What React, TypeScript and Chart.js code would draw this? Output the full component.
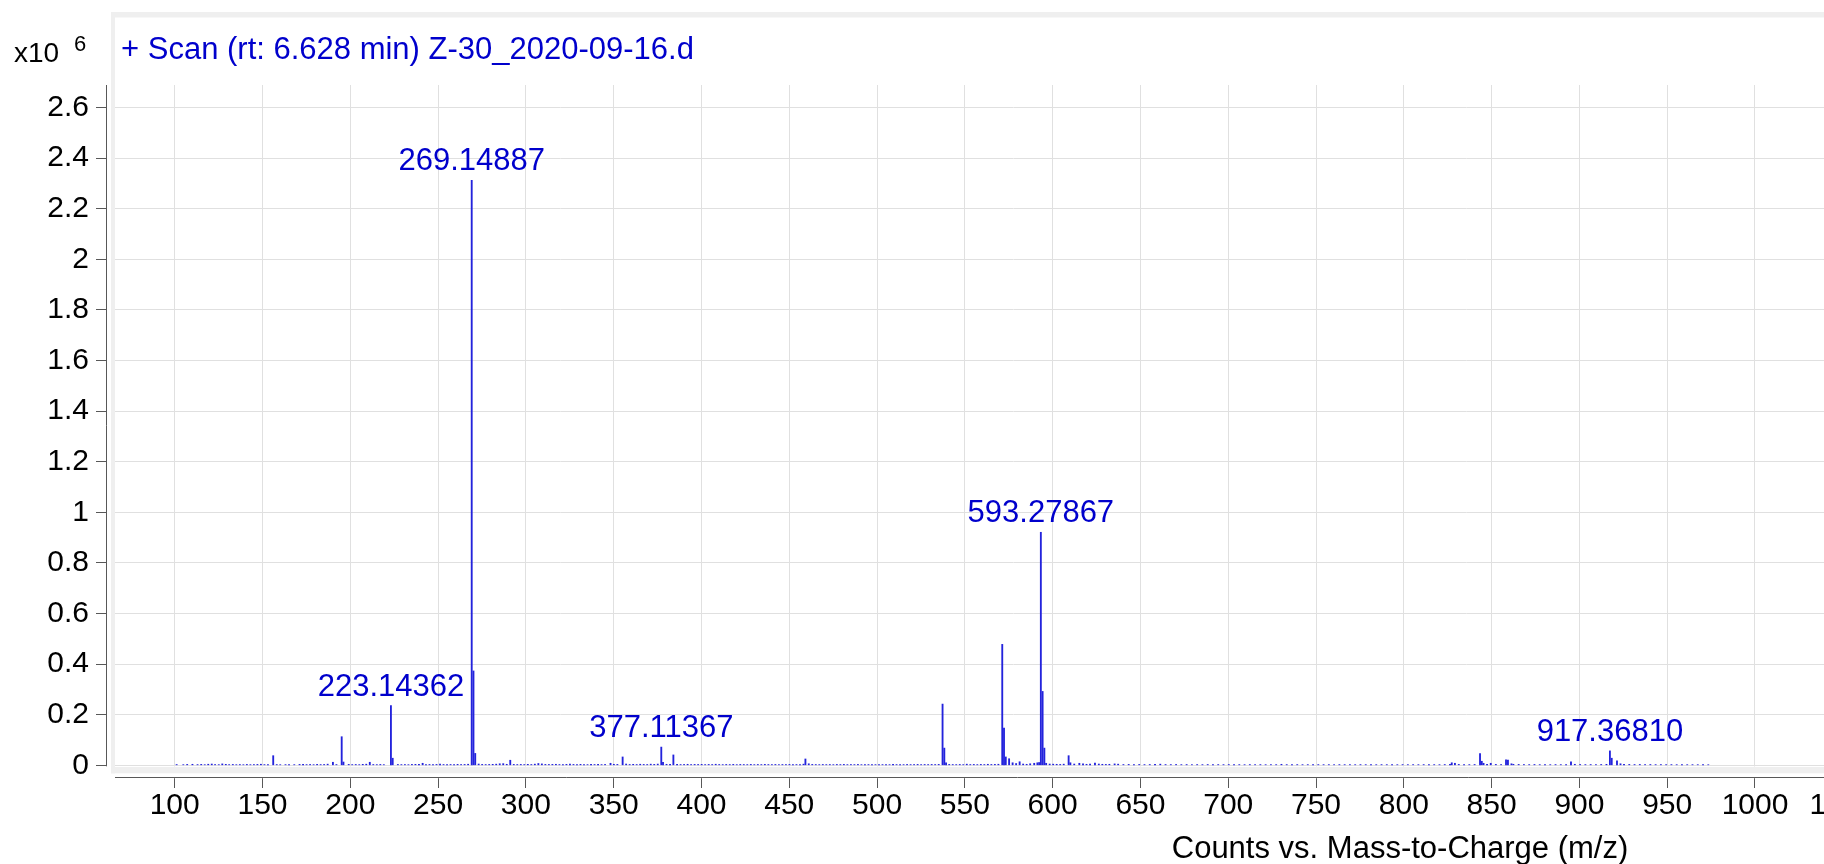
import React, { useEffect, useRef } from "react";
import { Chart, registerables } from "chart.js";

Chart.register(...registerables);

// ---------- text ----------
const titleText = "+ Scan (rt: 6.628 min) Z-30_2020-09-16.d";
const xAxisTitle = "Counts vs. Mass-to-Charge (m/z)";
const yMultiplierBase = "x10";
const yMultiplierExp = "6";

// ---------- ticks ----------
const xTickValues = [100, 150, 200, 250, 300, 350, 400, 450, 500, 550, 600, 650, 700, 750, 800, 850, 900, 950, 1000, 1050];
const yTickValues = [0, 200000, 400000, 600000, 800000, 1000000, 1200000, 1400000, 1600000, 1800000, 2000000, 2200000, 2400000, 2600000];

// ---------- labelled peaks ----------
const labeledMz = [223.14362, 269.14887, 377.11367, 593.27867, 917.3681];
const labeledCounts = [235600, 2312000, 72000, 921000, 57000];

// ---------- other peaks ----------
const peakMz = [156.1, 190.1, 195.1, 196.1, 211.1, 224.15, 241.2, 270.15, 271.15, 291.1, 307.1, 348.2, 355.1, 378.1, 384.0, 459.2, 537.3, 538.3, 539.3, 571.3, 572.3, 573.3, 575.2, 577.2, 581.2, 589.5, 591.3, 592.3, 594.28, 595.28, 596.3, 609.1, 610.1, 615.2, 624.1, 827.3, 829.1, 843.4, 844.4, 845.4, 849.5, 858.2, 859.3, 861.3, 895.2, 918.4, 921.4, 923.4];
const peakCounts = [38000, 12000, 113000, 13000, 12000, 28000, 8000, 373000, 47000, 20000, 7000, 8000, 33000, 12000, 41000, 25000, 242000, 68000, 10000, 478000, 147000, 33000, 26000, 10000, 14000, 8000, 10000, 11000, 292000, 68000, 8000, 38000, 10000, 8000, 9000, 10000, 8000, 46000, 16000, 8000, 8000, 22000, 21000, 6000, 14000, 28000, 18000, 6000];

// ---------- baseline noise ----------
const noiseMz = [101.1, 104.9, 107.1, 110.1, 113.0, 115.1, 117.1, 119.1, 121.1, 123.0, 125.1, 127.1, 129.1, 131.0, 133.1, 135.1, 137.1, 139.1, 141.1, 143.1, 145.1, 147.1, 149.1, 151.1, 153.1, 158.1, 160.1, 163.1, 165.1, 168.1, 171.1, 173.1, 175.1, 177.1, 179.1, 181.1, 183.1, 185.1, 187.1, 192.1, 199.1, 201.1, 203.1, 205.1, 207.1, 209.1, 213.1, 215.1, 217.1, 219.1, 227.1, 229.1, 231.1, 233.1, 235.1, 237.1, 239.1, 243.1, 245.1, 247.1, 249.1, 251.1, 253.1, 255.1, 257.1, 259.1, 261.1, 263.1, 265.1, 267.1, 273.1, 275.1, 277.1, 279.1, 281.1, 283.1, 285.1, 287.1, 289.1, 293.1, 295.1, 297.1, 299.1, 301.1, 303.1, 305.1, 309.1, 311.1, 313.1, 315.1, 317.1, 319.1, 321.1, 323.1, 325.1, 327.1, 329.1, 331.1, 333.1, 335.1, 337.1, 339.1, 341.1, 343.1, 345.1, 350.1, 352.1, 357.1, 359.1, 361.1, 363.1, 365.1, 367.1, 369.1, 371.1, 373.1, 375.1, 380.1, 382.1, 386.1, 388.1, 390.1, 392.1, 394.1, 396.1, 398.1, 400.1, 402.1, 404.1, 406.1, 408.1, 410.1, 412.1, 414.1, 416.1, 418.1, 420.1, 422.1, 424.1, 426.1, 428.1, 430.1, 432.1, 434.1, 436.1, 438.1, 440.1, 442.1, 444.1, 446.1, 448.1, 450.1, 452.1, 454.1, 456.1, 458.1, 461.1, 463.1, 465.1, 467.1, 469.1, 471.1, 473.1, 475.1, 477.1, 479.1, 481.1, 483.1, 485.1, 487.1, 489.1, 491.1, 493.1, 495.1, 497.1, 499.1, 501.1, 503.1, 505.1, 507.1, 509.1, 511.1, 513.1, 515.1, 517.1, 519.1, 521.1, 523.1, 525.1, 527.1, 529.1, 531.1, 533.1, 535.1, 541.1, 543.1, 545.1, 547.1, 549.1, 551.1, 553.1, 555.1, 557.1, 559.1, 561.1, 563.1, 565.1, 567.1, 569.1, 579.2, 583.2, 585.2, 587.2, 598.3, 600.3, 602.3, 604.3, 606.3, 612.3, 617.3, 619.3, 621.3, 626.3, 628.3, 630.3, 632.3, 635.3, 637.3, 640.3, 643.3, 646.3, 649.3, 652.3, 655.3, 658.3, 661.3, 664.3, 667.3, 670.3, 673.3, 676.3, 679.3, 682.3, 685.3, 688.3, 691.3, 694.3, 697.3, 700.3, 703.3, 706.3, 709.3, 712.3, 715.3, 718.3, 721.3, 724.3, 727.3, 730.3, 733.3, 736.3, 739.3, 742.3, 745.3, 748.3, 751.3, 754.3, 757.3, 760.3, 763.3, 766.3, 769.3, 772.3, 775.3, 778.3, 781.3, 784.3, 787.3, 790.3, 793.3, 796.3, 799.3, 802.3, 805.3, 808.3, 811.3, 814.3, 817.3, 820.3, 823.3, 826.3, 831.3, 834.3, 837.3, 840.3, 847.4, 852.4, 855.4, 862.4, 865.4, 868.4, 871.4, 874.4, 877.4, 880.4, 883.4, 886.4, 889.4, 892.4, 897.4, 900.4, 903.4, 906.4, 909.4, 912.4, 915.4, 925.4, 928.4, 931.4, 934.4, 937.4, 940.4, 943.4, 946.4, 949.4, 952.4, 955.4, 958.4, 961.4, 964.4, 967.4, 970.4, 973.4];
const noiseCounts = [3000, 2500, 3500, 4000, 2800, 3600, 2500, 4200, 5000, 3000, 2600, 5500, 3800, 2700, 3300, 2500, 3000, 2400, 3400, 2600, 2900, 3500, 4200, 2800, 3100, 3000, 2500, 2700, 3200, 2600, 3500, 4000, 2800, 3300, 2500, 3700, 2900, 3200, 4500, 3000, 3600, 2800, 3200, 2600, 3900, 4400, 3100, 2700, 3400, 2600, 3300, 2800, 3000, 2500, 3500, 3800, 4100, 2900, 3300, 2700, 3400, 5000, 3100, 2800, 3200, 2600, 3700, 3000, 3400, 4200, 5000, 3500, 3000, 3300, 3800, 4500, 6000, 6500, 4000, 3500, 3000, 3400, 2900, 3800, 3100, 4600, 5500, 3500, 3200, 3600, 4000, 3000, 2800, 3700, 5000, 3400, 2900, 3800, 3200, 2700, 3500, 3100, 3900, 2800, 3300, 4000, 3500, 5000, 3200, 3800, 3000, 4200, 3400, 3100, 4500, 3600, 4800, 4000, 3500, 3800, 3000, 3300, 4000, 2900, 3500, 3200, 3700, 2800, 3400, 3000, 4200, 3100, 2700, 3300, 2900, 3600, 2600, 3400, 3000, 2800, 3500, 2700, 3200, 2900, 3600, 3000, 2800, 3300, 2600, 3100, 2900, 3400, 2700, 3000, 3300, 4500, 6000, 3500, 3000, 2700, 3200, 2800, 3100, 2600, 3300, 2900, 3500, 2700, 3000, 2800, 3400, 2600, 3100, 2900, 3300, 2700, 3200, 2800, 3000, 2600, 3400, 2900, 3100, 2700, 3300, 2800, 3000, 3500, 2700, 3200, 2900, 3400, 3000, 3600, 3500, 3000, 2800, 3300, 2700, 4500, 3000, 3400, 2800, 3500, 3000, 4000, 3300, 3600, 4200, 7000, 5000, 4000, 6000, 5000, 4500, 4000, 3500, 4500, 5000, 6000, 4000, 4500, 5000, 4000, 3500, 4000, 5500, 4500, 3000, 3500, 3000, 3300, 2800, 3100, 3500, 4500, 3000, 2800, 3200, 2700, 3000, 2600, 2900, 2700, 3100, 2600, 2900, 2700, 3000, 2600, 2800, 2500, 2900, 2600, 2800, 2500, 2700, 2600, 4000, 2700, 2500, 2800, 2600, 2700, 2500, 2800, 2600, 2700, 2500, 2800, 2600, 2700, 2500, 2800, 2600, 2700, 2500, 2800, 2600, 2700, 2500, 2800, 2600, 2700, 2600, 2800, 2500, 2700, 2600, 3000, 4000, 3500, 3000, 2800, 3200, 4000, 3500, 3000, 4000, 3500, 3000, 2800, 3200, 2700, 3000, 2600, 2900, 2700, 3100, 4000, 3200, 2800, 3000, 2700, 3200, 3800, 4000, 3500, 3000, 3300, 2800, 3100, 2700, 2900, 2600, 2800, 2500, 2700, 2500, 2600, 2500, 2400, 2300];

// ---------- ranges ----------
const X_MIN = 61.44;
const X_MAX = 1093.97;
const Y_MIN = -46245;
const Y_MAX = 2688950;

const FONT = "'Liberation Sans', Arial, sans-serif";
const BLUE_TEXT = "#0000cc";
const BAR_COLOR = "rgb(35,35,220)";
const GRID_COLOR = "#e0e0e0";
const AXIS_COLOR = "#585858";
const FRAME_COLOR = "#efefef";

function buildData() {
  const pts: { x: number; y: number }[] = [];
  labeledMz.forEach((m, i) => pts.push({ x: m, y: labeledCounts[i] }));
  peakMz.forEach((m, i) => pts.push({ x: m, y: peakCounts[i] }));
  noiseMz.forEach((m, i) => pts.push({ x: m, y: noiseCounts[i] }));
  pts.sort((a, b) => a.x - b.x);
  return pts;
}

const framePlugin = {
  id: "msFrame",
  beforeDatasetsDraw(chart: any) {
    const { ctx, chartArea: a, width } = chart;
    const ys = chart.scales.y;
    const zeroY = ys.getPixelForValue(0);
    ctx.save();
    // white gap between axes and plot panel
    ctx.fillStyle = "#ffffff";
    ctx.fillRect(a.left, a.top, 8, a.bottom - a.top);
    ctx.fillRect(a.left, zeroY + 1.2, width - a.left, a.bottom - zeroY);
    // light grey panel frame
    ctx.fillStyle = FRAME_COLOR;
    ctx.fillRect(a.left + 4, 12, 4, zeroY + 8 - 12);
    ctx.fillRect(a.left + 4, 12, width - a.left - 4, 5.5);
    ctx.fillRect(a.left + 4, zeroY + 1.7, width - a.left - 4, 6.3);
    // axis lines
    ctx.strokeStyle = AXIS_COLOR;
    ctx.lineWidth = 1;
    ctx.beginPath();
    ctx.moveTo(a.left - 0.5, a.top);
    ctx.lineTo(a.left - 0.5, zeroY + 1);
    ctx.moveTo(a.left + 8, a.bottom + 0.5);
    ctx.lineTo(width, a.bottom + 0.5);
    ctx.stroke();
    ctx.restore();
  },
  afterDraw(chart: any) {
    const { ctx } = chart;
    const xs = chart.scales.x;
    const ys = chart.scales.y;
    ctx.save();
    ctx.textBaseline = "alphabetic";
    // title
    ctx.fillStyle = BLUE_TEXT;
    ctx.font = `31px ${FONT}`;
    ctx.textAlign = "left";
    ctx.fillText(titleText, 121, 59);
    // multiplier
    ctx.fillStyle = "#000";
    ctx.font = `28px ${FONT}`;
    ctx.fillText(yMultiplierBase, 14, 62);
    ctx.font = `22px ${FONT}`;
    ctx.fillText(yMultiplierExp, 74, 51);
    // x axis title
    ctx.font = `31px ${FONT}`;
    ctx.textAlign = "center";
    ctx.fillText(xAxisTitle, 1400, 858);
    // peak labels
    ctx.fillStyle = BLUE_TEXT;
    labeledMz.forEach((m, i) => {
      const px = xs.getPixelForValue(m);
      const py = ys.getPixelForValue(labeledCounts[i]);
      ctx.fillText(m.toFixed(5), px, py - 10);
    });
    ctx.restore();
  },
};

export default function App() {
  const ref = useRef<HTMLCanvasElement | null>(null);
  useEffect(() => {
    const canvas = ref.current;
    if (!canvas) return;
    const chart = new Chart(canvas, {
      type: "bar",
      data: {
        datasets: [
          {
            data: buildData() as any,
            backgroundColor: BAR_COLOR,
            borderWidth: 0,
            barThickness: 1.2,
            grouped: false,
          } as any,
        ],
      },
      options: {
        animation: false,
        responsive: false,
        devicePixelRatio: 1,
        layout: { padding: { top: 85, left: 0, right: 0, bottom: 0 } },
        plugins: { legend: { display: false }, tooltip: { enabled: false } },
        scales: {
          x: {
            type: "linear",
            min: X_MIN,
            max: X_MAX,
            offset: false,
            afterBuildTicks: (s: any) => {
              s.ticks = xTickValues.map((v) => ({ value: v }));
            },
            afterFit: (s: any) => {
              s.height = 87;
            },
            grid: { offset: false, color: GRID_COLOR, lineWidth: 1, tickLength: 11, tickColor: AXIS_COLOR, drawTicks: true },
            border: { display: false },
            ticks: {
              autoSkip: false,
              maxRotation: 0,
              minRotation: 0,
              padding: 0,
              color: "#000",
              font: { family: FONT, size: 30 },
              callback: (v: any) => String(v),
            },
          },
          y: {
            type: "linear",
            min: Y_MIN,
            max: Y_MAX,
            afterBuildTicks: (s: any) => {
              s.ticks = yTickValues.map((v) => ({ value: v }));
            },
            afterFit: (s: any) => {
              s.width = 107;
            },
            grid: { offset: false, color: GRID_COLOR, lineWidth: 1, tickLength: 11, tickColor: AXIS_COLOR, drawTicks: true },
            border: { display: false },
            ticks: {
              padding: 7,
              color: "#000",
              font: { family: FONT, size: 30 },
              callback: (v: any) => String(Math.round(Number(v) / 1e5) / 10),
            },
          },
        },
      } as any,
      plugins: [framePlugin],
    });
    return () => chart.destroy();
  }, []);

  return (
    <div
      style={{
        position: "fixed",
        left: 0,
        top: 0,
        width: 1824,
        height: 864,
        overflow: "hidden",
        background: "#ffffff",
      }}
    >
      <canvas ref={ref} width={1920} height={864} style={{ display: "block" }} />
    </div>
  );
}
